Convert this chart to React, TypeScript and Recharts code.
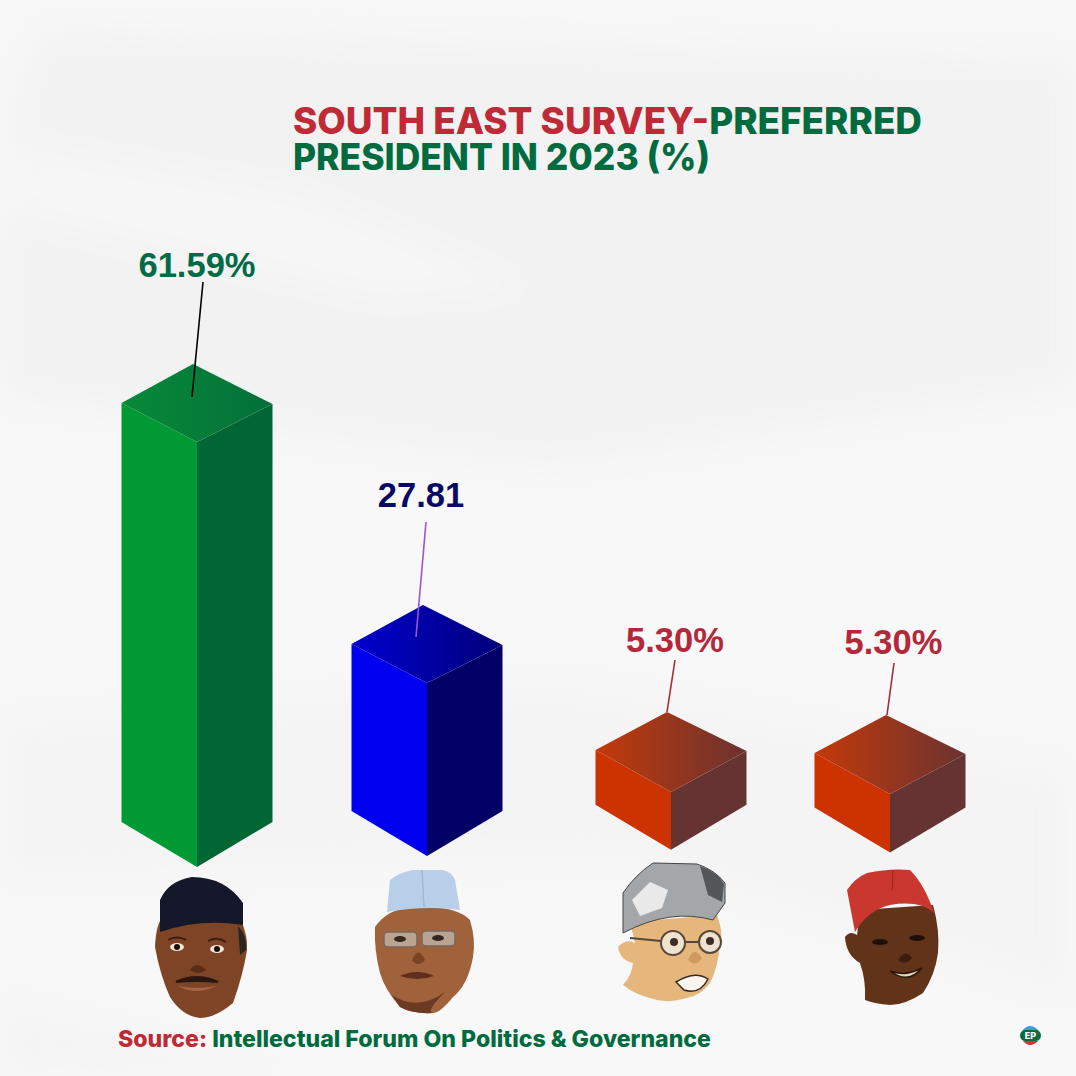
import { BarChart, Bar, XAxis, YAxis } from 'recharts';

// the portraits have no printed names, so the categories are just slots
const categories = ['A', 'B', 'C', 'D'];
const surveyValues = [61.59, 27.81, 5.3, 5.3];
const valueLabels = ['61.59%', '27.81', '5.30%', '5.30%'];
// the artwork is not drawn to scale: block bottoms and tops
const blockBottoms = [0, 1.6, 2.5, 2.1];
const blockTops = [61.59, 26.67, 10.87, 10.58];

const chartData = categories.map((name, i) => ({
  name,
  share: surveyValues[i],
  label: valueLabels[i],
  block: [blockBottoms[i], blockTops[i]],
}));

const GREEN = '#006b3f';
const RED = '#bf2a36';

const looks = [
  { left: '#009933', right: '#006633', topA: '#078a38', topB: '#03703a', text: '#006b45', line: '#000000', shift: 0, tx: 0, rise: 165, lx: 6, ly: 160, endX: -5, endY: 45, apex: 78, side: 39 },
  { left: '#0000f0', right: '#000066', topA: '#0000d0', topB: '#000078', text: '#0a0a66', line: '#9a55d6', shift: -1, tx: -6, rise: 176, lx: -1, ly: 161, endX: -11, endY: 46, apex: 78, side: 39 },
  { left: '#cc3300', right: '#663333', topA: '#c4390a', topB: '#6a3330', text: '#b3293a', line: '#a82a35', shift: 12, tx: 4, rise: 140, lx: 4, ly: 132, endX: -4, endY: 80, apex: 80, side: 42 },
  { left: '#cc3300', right: '#663333', topA: '#c4390a', topB: '#6a3330', text: '#b3293a', line: '#a82a35', shift: 0, tx: 3.5, rise: 140, lx: 4, ly: 131, endX: -3, endY: 79, apex: 79, side: 41 },
];

function Prism(props: any) {
  const { x, y, width, height, index, payload } = props;
  const look = looks[index];
  const cx = x + width / 2 + look.shift;
  const l = cx - width / 2;
  const r = cx + width / 2;
  const bottom = y + height;
  const gid = `top-face-${index}`;
  const apexX = cx - 4;
  return (
    <g>
      <defs>
        <linearGradient id={gid} x1="0" y1="0" x2="1" y2="0">
          <stop offset="0%" stopColor={look.topA} />
          <stop offset="100%" stopColor={look.topB} />
        </linearGradient>
      </defs>
      <polygon points={`${l},${y - look.side} ${cx},${y} ${cx},${bottom} ${l},${bottom - 45}`} fill={look.left} />
      <polygon points={`${r},${y - look.side + 1} ${cx},${y} ${cx},${bottom} ${r},${bottom - 45}`} fill={look.right} />
      <polygon points={`${l},${y - look.side} ${apexX},${y - look.apex} ${r},${y - look.side + 1} ${cx},${y}`} fill={`url(#${gid})`} />
      <line x1={cx + look.lx} y1={y - look.ly} x2={cx + look.endX} y2={y - look.endY} stroke={look.line} strokeWidth={1.6} />
      <text x={cx + look.tx} y={y - look.rise} textAnchor="middle" fontFamily="Liberation Sans" fontWeight={700} fontSize={34.5} fill={look.text}>
        {payload.label}
      </text>
    </g>
  );
}

function Backdrop() {
  return (
    <g>
      <defs>
        <filter id="soft" x="-20%" y="-20%" width="140%" height="140%">
          <feGaussianBlur stdDeviation="18" />
        </filter>
      </defs>
      <rect width={1076} height={1076} fill="#f8f8f8" />
      <g filter="url(#soft)">
        <polygon points="40,30 1076,60 1076,385 550,465 0,395 0,150" fill="#f2f2f2" />
        <polygon points="200,0 800,0 760,30 240,30" fill="#f8f8f8" />
        <polygon points="0,140 300,190 540,290 380,300 0,215" fill="#f6f6f6" />
        <polygon points="0,720 560,680 1076,770 1076,1000 620,860 0,880" fill="#f4f4f4" />
        <polygon points="0,1000 300,1076 0,1076" fill="#f4f4f4" />
      </g>
    </g>
  );
}

function Faces() {
  return (
    <g>
      {/* dark cap */}
      <path d="M155 947 Q156 925 162 918 L240 918 Q248 935 247 950 Q243 975 233 1003 Q215 1018 200 1018 Q182 1016 170 997 Q160 975 155 947Z" fill="#7d4526" />
      <path d="M160 932 L160 900 Q168 881 192 877 Q225 877 243 903 L243 925 Q200 918 160 932Z" fill="#15172a" />
      <path d="M238 926 Q247 935 246 950 L240 955Z" fill="#2b2420" />
      <ellipse cx={177} cy={947} rx={7} ry={4} fill="#f3e6d8" />
      <ellipse cx={217} cy={949} rx={7} ry={4} fill="#f3e6d8" />
      <circle cx={177} cy={947} r={3} fill="#1a0f0a" />
      <circle cx={217} cy={949} r={3} fill="#1a0f0a" />
      <path d="M168 940 Q177 935 186 940 M208 941 Q217 936 226 942" stroke="#3a1d0e" strokeWidth={2} fill="none" />
      <path d="M190 970 Q197 960 206 970 Q198 976 190 970Z" fill="#5a2d16" />
      <path d="M176 982 Q197 972 218 982 Q197 980 176 982Z" fill="#2c1710" stroke="#2c1710" strokeWidth={2} />
      <path d="M178 986 Q197 996 216 986 Q197 990 178 986Z" fill="#a5654a" />

      {/* pale blue cap */}
      <path d="M375 927 Q390 905 420 908 Q455 905 470 920 Q476 940 473 957 Q468 985 453 997 Q440 1013 433 1013 Q412 1014 400 1007 Q385 990 380 973 Q374 950 375 927Z" fill="#a0623a" />
      <path d="M387 912 L390 880 Q400 872 413 870 L443 870 Q452 872 455 880 L460 910 Q425 905 387 912Z" fill="#b9cfe9" />
      <path d="M422 870 L424 907" stroke="#9fb8d8" strokeWidth={1.5} />
      <rect x={384} y={932} width={33} height={15} rx={4} fill="#b9a392" stroke="#77675c" strokeWidth={1.5} />
      <rect x={422} y={931} width={33} height={15} rx={4} fill="#b9a392" stroke="#77675c" strokeWidth={1.5} />
      <ellipse cx={400} cy={939} rx={6} ry={3} fill="#33241c" />
      <ellipse cx={438} cy={938} rx={6} ry={3} fill="#33241c" />
      <path d="M412 960 Q418 945 425 960 Q418 968 412 960Z" fill="#7a4422" />
      <path d="M400 976 Q417 968 434 976 Q417 982 400 976Z" fill="#5f2f1d" />
      <path d="M392 995 Q417 1012 445 992 Q425 1012 433 1013 Q412 1014 400 1007Z" fill="#6b3a22" />

      {/* grey wrapped cap */}
      <path d="M618 947 Q626 938 635 943 L630 922 L717 915 Q724 935 720 943 Q718 968 710 983 Q700 996 687 998 Q670 1003 657 1000 Q635 995 623 985 Q632 975 633 963 Q620 960 618 947Z" fill="#e6b77c" />
      <path d="M623 933 L623 893 Q635 875 653 863 L697 864 Q715 870 725 883 L725 903 L713 920 Q670 908 623 933Z" fill="#a4a7a9" stroke="#444" strokeWidth={1} />
      <path d="M632 900 L650 882 L668 890 L662 908 L640 916Z" fill="#e9e9e9" />
      <path d="M700 866 Q718 872 724 884 L722 902 L708 895Z" fill="#54575a" />
      <circle cx={673} cy={943} r={12} fill="#efe3d0" stroke="#57483a" strokeWidth={2} />
      <circle cx={710} cy={942} r={11} fill="#efe3d0" stroke="#57483a" strokeWidth={2} />
      <circle cx={674} cy={942} r={4} fill="#3a2d24" />
      <circle cx={710} cy={941} r={4} fill="#3a2d24" />
      <path d="M630 938 L661 941 M685 942 L699 942" stroke="#57483a" strokeWidth={2} />
      <path d="M688 960 Q694 945 702 958 Q696 968 688 960Z" fill="#d09a5e" />
      <path d="M676 982 Q695 970 708 979 Q700 995 684 990Z" fill="#f8f6ee" stroke="#3a2a20" strokeWidth={1.5} />

      {/* red cap */}
      <path d="M845 937 Q850 930 857 935 L860 910 L933 905 Q940 930 938 953 Q935 975 923 993 Q905 1005 890 1005 Q875 1004 865 1000 Q866 980 860 963 Q846 955 845 937Z" fill="#613419" />
      <path d="M855 932 L847 890 Q855 878 867 873 Q890 868 910 870 Q925 885 934 913 Q920 900 890 905 Q868 910 855 932Z" fill="#c9372f" />
      <path d="M893 870 L892 890" stroke="#9b2420" strokeWidth={1} />
      <ellipse cx={880} cy={942} rx={8} ry={3} fill="#1e1009" />
      <ellipse cx={917} cy={938} rx={8} ry={3} fill="#1e1009" />
      <path d="M898 960 Q905 948 912 958 Q905 966 898 960Z" fill="#3c1e0e" />
      <path d="M890 971 Q905 977 922 968 Q908 985 890 971Z" fill="#e4d3bd" stroke="#2a150a" strokeWidth={1.5} />
    </g>
  );
}

function Texts() {
  const font = 'Inter, sans-serif';
  return (
    <g fontFamily={font} fontWeight={800}>
      <text x={293} y={134} fontSize={37} textLength={629} lengthAdjust="spacingAndGlyphs">
        <tspan fill={RED}>SOUTH EAST SURVEY-</tspan>
        <tspan fill={GREEN}>PREFERRED</tspan>
      </text>
      <text x={293} y={170} fontSize={37} fill={GREEN} textLength={417} lengthAdjust="spacingAndGlyphs">
        PRESIDENT IN 2023 (%)
      </text>
      <text x={118} y={1047} fontSize={23.5} textLength={593} lengthAdjust="spacingAndGlyphs">
        <tspan fill={RED}>Source: </tspan>
        <tspan fill={GREEN}>Intellectual Forum On Politics &amp; Governance</tspan>
      </text>
      {/* EP mark */}
      <path d="M1022 1031 Q1030 1021 1039 1031Z" fill="#3b9fd8" />
      <path d="M1023 1041 Q1030 1049 1038 1041Z" fill="#d1343a" />
      <rect x={1020} y={1030} width={21} height={11} rx={5.5} fill="#0b6b3e" />
      <text x={1030.5} y={1039} textAnchor="middle" fontSize={9} fontWeight={800} fill="#ffffff">EP</text>
    </g>
  );
}

export default function App() {
  return (
    <div style={{ position: 'absolute', left: 0, top: 0, width: 1076, height: 1076, overflow: 'hidden' }}>
      <svg width={1076} height={1076} style={{ position: 'absolute', left: 0, top: 0 }}>
        <Backdrop />
        <Faces />
        <Texts />
      </svg>
      <div style={{ position: 'absolute', left: 0, top: 0 }}>
        <BarChart width={1076} height={1076} data={chartData} margin={{ top: 177, right: 70.5, bottom: 209, left: 81.5 }}>
          <XAxis dataKey="name" hide />
          <YAxis hide domain={[0, 100]} />
          <Bar dataKey="block" barSize={151} isAnimationActive={false} shape={Prism} />
        </BarChart>
      </div>
    </div>
  );
}
